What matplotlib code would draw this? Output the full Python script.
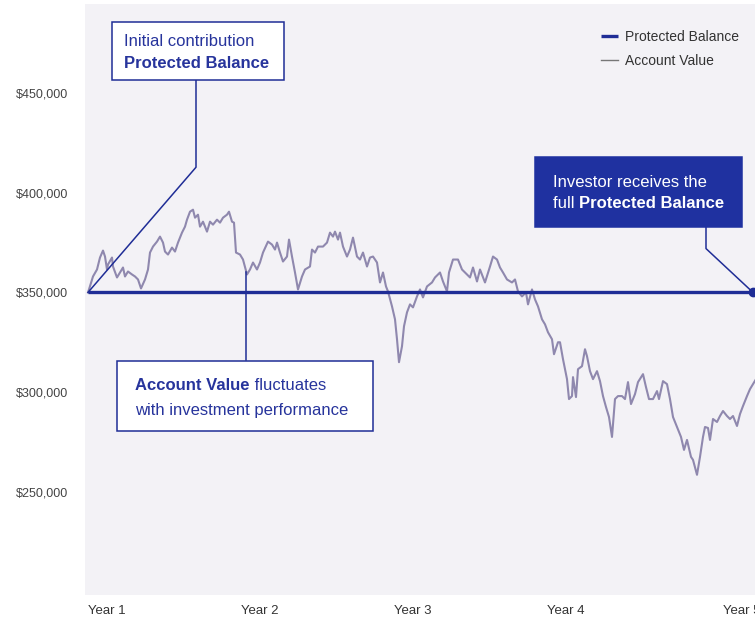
import matplotlib
matplotlib.use("Agg")
import matplotlib.pyplot as plt
from matplotlib.patches import Rectangle
import numpy as np

plt.rcParams['font.family'] = ['Liberation Sans', 'DejaVu Sans']

# trading-day index (153 per chart year) and account value in $ thousands
day = [0, 1, 5, 9, 12, 15, 17, 19, 20, 24,
       25, 29, 32, 35, 37, 40, 44, 47, 50, 53,
       57, 60, 62, 65, 69, 72, 75, 77, 80, 84,
       87, 90, 94, 97, 99, 102, 105, 107, 110, 112,
       115, 119, 122, 125, 129, 132, 135, 139, 141, 144,
       146, 148, 152, 155, 159, 162, 165, 169, 172, 175,
       180, 184, 187, 189, 192, 195, 199, 201, 204, 207,
       210, 214, 217, 222, 224, 227, 230, 235, 239, 242,
       245, 247, 250, 252, 255, 259, 262, 265, 269, 272,
       275, 279, 282, 285, 289, 292, 295, 298, 300, 304,
       307, 309, 311, 314, 316, 319, 322, 325, 329, 332,
       335, 339, 344, 347, 352, 355, 359, 361, 365, 370,
       374, 377, 382, 385, 389, 392, 397, 402, 405, 409,
       412, 415, 419, 424, 427, 430, 434, 438, 440, 444,
       447, 450, 454, 457, 460, 464, 466, 470, 472, 475,
       479, 481, 484, 485, 488, 490, 494, 497, 499, 502,
       505, 509, 512, 515, 518, 521, 524, 527, 530, 534,
       537, 540, 543, 547, 550, 555, 558, 561, 565, 569,
       571, 575, 579, 582, 585, 589, 593, 596, 599, 603,
       605, 609, 612, 615, 617, 620, 622, 625, 629, 632,
       635, 639, 642, 645, 649, 652, 655, 659, 662, 665, 668]

account_k = [350, 351.5, 358, 361.5, 367.5, 371, 368, 361.5, 364, 367.5,
             363, 357.5, 360, 362.5, 358, 360.5, 359, 358, 356.5, 352,
             356.5, 361.5, 370, 373, 375.5, 378, 375, 370.5, 369, 372.5,
             370.5, 375, 380, 383, 386.5, 390.5, 391.5, 387.5, 389, 383,
             385.5, 380.5, 385.5, 384, 386.5, 385, 387.5, 389, 390.5, 385.5,
             385, 370, 369, 366.5, 359, 361.5, 365, 361.5, 365, 370,
             375.5, 374, 371.5, 375, 370, 365.5, 368, 376.5, 368, 360,
             351.5, 358, 361.5, 363, 371.5, 370, 373, 373, 375, 380,
             378, 380.5, 376.5, 380, 373, 368, 371.5, 377.5, 368, 366.5,
             370, 363, 367.5, 368, 365, 355, 360, 353, 350.5, 343,
             336.5, 326.5, 315, 323, 333, 340, 344, 342.5, 348, 351.5,
             347.5, 353, 355, 357.5, 360, 355.5, 350.5, 360, 366.5, 366.5,
             361.5, 360, 357.5, 362.5, 355.5, 361.5, 355, 363, 368, 366.5,
             362.5, 360, 356.5, 355, 356.5, 350.5, 348, 350, 344, 351.5,
             346.5, 343, 336.5, 334, 330, 326.5, 319, 325, 325, 316.5,
             306.5, 296.5, 298, 307.5, 297.5, 311.5, 313, 321.5, 318, 310.5,
             306.5, 310.5, 305.5, 298, 292.5, 287.5, 277.5, 296.5, 298, 298,
             296.5, 305, 294, 299, 305, 309, 302.5, 296.5, 296.5, 300.5,
             296.5, 305.5, 304, 296.5, 287.5, 282.5, 277.5, 271, 276, 267.5,
             266, 258.5, 267.5, 277.5, 282.5, 282, 276, 286.5, 285, 288,
             290.5, 288, 286.5, 288, 283, 289, 293, 298, 301.5, 304, 306.5]

protected_value = 350000
protected_days = [0, 665]

year_labels = ['Year 1', 'Year 2', 'Year 3', 'Year 4', 'Year 5']
year_ticks = [0, 153, 306, 459, 635]
value_ticks = [250000, 300000, 350000, 400000, 450000]

NAVY = '#1f2d96'
GREY_LINE = '#8f88ae'
W, H = 755, 624


def fx(x):
    return x / W


def fy(y):
    return 1 - y / H


fig = plt.figure(figsize=(W / 100, H / 100), dpi=100)
ax = fig.add_axes([fx(85), fy(595), fx(755) - fx(85), fy(4) - fy(595)])
ax.set_facecolor('#f3f2f6')
for s in ax.spines.values():
    s.set_visible(False)

account = np.array(account_k) * 1000
acc_line, = ax.plot(day, account, color=GREY_LINE, lw=1.5, label='Account Value', zorder=3)
prot_line, = ax.plot(protected_days, [protected_value] * 2, color=NAVY, lw=2.4,
                     label='Protected Balance', zorder=4, solid_capstyle='butt')
ax.plot(protected_days[-1], protected_value, 'o', color=NAVY, ms=6, zorder=5, clip_on=False)

ax.set_xlim(-3, 667)
ax.set_ylim(198200, 494700)
ax.set_xticks(year_ticks)
ax.set_xticklabels(year_labels, ha='left')
ax.set_yticks(value_ticks)
ax.set_yticklabels([f'${v:,.0f}' for v in value_ticks])
ax.tick_params(axis='y', length=0, pad=12, labelsize=9, labelcolor='#444444')
ax.tick_params(axis='x', length=0, pad=7, labelsize=9.5, labelcolor='#333333')

# connectors
ax.plot([0, 108, 108], [350000, 412800, 457000], color=NAVY, lw=1.1, zorder=6, clip_on=False)
ax.plot([158, 158], [360000, 316000], color=NAVY, lw=1.1, zorder=6)
ax.plot([665, 618, 618], [350000, 372000, 383500], color=NAVY, lw=1.1, zorder=6, clip_on=False)

# annotation boxes (figure-pixel layout, drawn inside the axes)
boxes = [((112, 22, 284, 80), 'white', NAVY),
         ((117, 361, 373, 431), 'white', NAVY),
         ((535, 157, 742, 227), '#1f31a0', '#1f31a0')]
for (x0, y0, x1, y1), fc, ec in boxes:
    ax.add_patch(Rectangle((fx(x0), fy(y1)), fx(x1) - fx(x0), fy(y0) - fy(y1),
                           transform=fig.transFigure, facecolor=fc, edgecolor=ec,
                           lw=1.1, zorder=10, clip_on=False))

TXT = '#27349c'
fs = 12


def label(x, y, s, color, bold=False):
    return ax.text(fx(x), fy(y), s, transform=fig.transFigure, color=color, fontsize=fs,
                   va='baseline', fontweight='bold' if bold else 'normal', zorder=11,
                   clip_on=False)


def label_after(t, s, color, bold=False):
    return ax.annotate(s, xy=(1, 0), xycoords=t, va='bottom', ha='left', color=color,
                       fontsize=fs, fontweight='bold' if bold else 'normal', zorder=11,
                       annotation_clip=False)


label(124, 46, 'Initial contribution', TXT)
label(124, 68, 'Protected Balance', TXT, bold=True)

t = label(135, 390, 'Account Value', TXT, bold=True)
label_after(t, ' fluctuates', TXT)
label(135, 415, 'with investment performance', TXT)

label(553, 187, 'Investor receives the', 'white')
t = label(553, 208, 'full ', 'white')
label_after(t, 'Protected Balance', 'white', bold=True)

leg = fig.legend(handles=[prot_line, acc_line], loc='upper left',
                 bbox_to_anchor=(fx(601), fy(30)), frameon=False, fontsize=10,
                 borderpad=0, borderaxespad=0, handlelength=1.25, handletextpad=0.5,
                 labelspacing=0.72)
for txt in leg.get_texts():
    txt.set_color('#333333')
leg.legend_handles[1].set_linewidth(1)
leg.legend_handles[1].set_color('#777777')

fig.savefig('out.png', dpi=100, facecolor='white')
